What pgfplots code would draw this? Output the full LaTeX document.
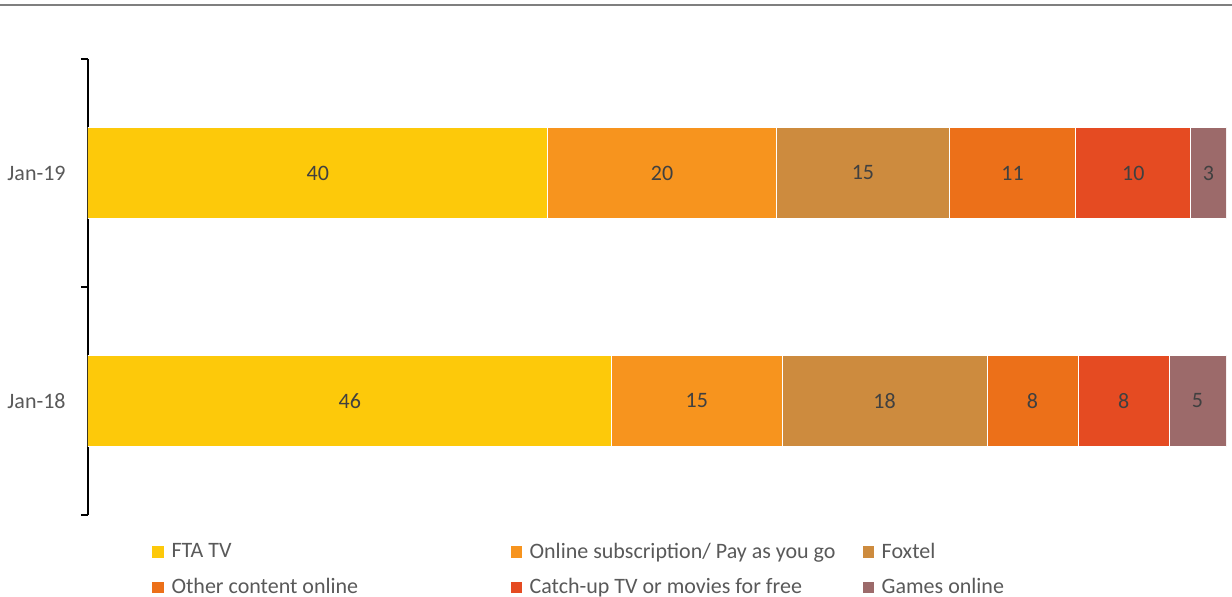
\documentclass[border=0pt]{standalone}
\usepackage{fontspec}
\setmainfont{Carlito}
\usepackage{pgfplots}
\pgfplotsset{compat=1.18}
\definecolor{cFTA}{HTML}{FDC90A}
\definecolor{cOnl}{HTML}{F7941E}
\definecolor{cFox}{HTML}{CD8B3E}
\definecolor{cOth}{HTML}{EC7019}
\definecolor{cCat}{HTML}{E54B22}
\definecolor{cGam}{HTML}{9C6A6A}
\definecolor{tgrey}{HTML}{595959}
\definecolor{dgrey}{HTML}{404040}
\definecolor{lgrey}{HTML}{7F7F7F}
\pgfplotsset{sqleg/.style={legend image code/.code={\fill[##1,draw=none] (0pt,-3pt) rectangle (5.8pt,2.8pt); \path (7.8pt,0pt);}}}
\begin{document}
\begin{tikzpicture}
\useasboundingbox (0,0) rectangle (616pt,-298.5pt);
\draw[color=lgrey, line width=1pt] (0,-2.5pt) -- (616pt,-2.5pt);
\begin{axis}[
  at={(44pt,-257.5pt)}, anchor=south west,
  scale only axis, width=569pt, height=228pt,
  xbar stacked, bar width=0.4,
  xmin=0, xmax=100, ymin=-0.5, ymax=1.5,
  axis x line=none, axis y line*=left,
  y axis line style={black, line width=0.6pt, -},
  ytick={0,1}, yticklabels={Jan-18,Jan-19},
  major tick length=0pt,
  extra y ticks={-0.5,0.5,1.5}, extra y tick labels={},
  extra y tick style={major tick length=3.5pt, tick align=outside, tick style={black, line width=0.6pt}},
  yticklabel style={font=\fontsize{11}{13}\selectfont, text=tgrey, inner sep=0pt, xshift=-11pt},
  legend columns=3,
  legend cell align=left,
  legend style={at={(0.0510,-0.045)}, anchor=north west, draw=none, fill=none,
    font=\fontsize{11}{13}\selectfont, text=tgrey, row sep=5.5pt,
    nodes={inner sep=1.5pt}},
]
\addplot[fill=cFTA, draw=white, line width=0.5pt, sqleg] coordinates {(46,0) (40.4,1)};
\addlegendentry{\makebox[168pt][l]{FTA TV}}
\addplot[fill=cOnl, draw=white, line width=0.5pt, sqleg] coordinates {(15,0) (20.1,1)};
\addlegendentry{\makebox[165pt][l]{Online subscription/ Pay as you go}}
\addplot[fill=cFox, draw=white, line width=0.5pt, sqleg] coordinates {(18,0) (15.2,1)};
\addlegendentry{Foxtel}
\addplot[fill=cOth, draw=white, line width=0.5pt, sqleg] coordinates {(8,0) (11.1,1)};
\addlegendentry{\makebox[168pt][l]{Other content online}}
\addplot[fill=cCat, draw=white, line width=0.5pt, sqleg] coordinates {(8,0) (10.1,1)};
\addlegendentry{\makebox[165pt][l]{Catch-up TV or movies for free}}
\addplot[fill=cGam, draw=white, line width=0.5pt, sqleg] coordinates {(5,0) (3.1,1)};
\addlegendentry{Games online}
\end{axis}
\begin{axis}[
  at={(44pt,-257.5pt)}, anchor=south west,
  scale only axis, width=569pt, height=228pt,
  xmin=0, xmax=100, ymin=-0.5, ymax=1.5,
  hide axis,
]
\addplot[draw=none, mark=none, nodes near coords, point meta=explicit symbolic,
  every node near coord/.append style={anchor=center, font=\fontsize{11}{13}\selectfont, text=dgrey}]
  coordinates {
  (23,0)[46] (53.5,0)[15] (70,0)[18] (83,0)[8] (91,0)[8] (97.5,0)[5]
  (20.2,1)[40] (50.45,1)[20] (68.1,1)[15] (81.25,1)[11] (91.85,1)[10] (98.45,1)[3]
  };
\end{axis}
\end{tikzpicture}
\end{document}
